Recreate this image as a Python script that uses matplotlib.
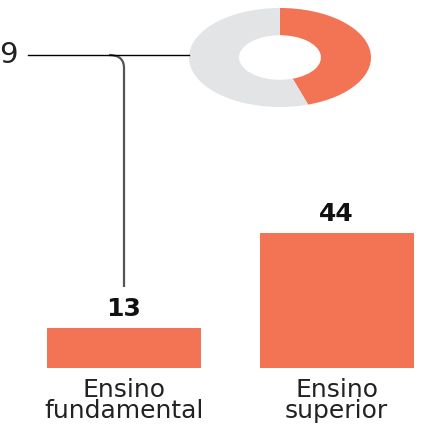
import matplotlib.pyplot as plt
from matplotlib.path import Path
from matplotlib.patches import PathPatch

# dados
categorias = ["Ensino\nfundamental", "Ensino\nsuperior"]
valores = [13, 44]
donut_valores = [45, 55]
donut_rotulo = "9"

laranja = "#F37355"
cinza = "#E3E4E6"

W, H = 422, 425
fig = plt.figure(figsize=(W / 100, H / 100), dpi=100)

# barras
base_px = 368
ax = fig.add_axes([0, (H - base_px) / H, 1, base_px / H])
ax.patch.set_visible(False)
ax.bar(range(len(valores)), valores, width=0.725, color=laranja)
ax.set_xlim(-0.5835, 1.402)
ax.set_ylim(0, base_px / 3.07)
for s in ax.spines.values():
    s.set_visible(False)
ax.set_yticks([])
ax.set_xticks(range(len(categorias)))
ax.set_xticklabels(categorias, fontsize=18, color="#222222", linespacing=0.88)
ax.tick_params(axis="x", length=0, pad=7)
for i, v in enumerate(valores):
    ax.annotate(str(v), (i, v), xytext=(0, 5), textcoords="offset points",
                ha="center", va="bottom", fontsize=18, fontweight="bold",
                color="#111111")

# rosca (esticada na horizontal como no original)
ax2 = fig.add_axes([189 / W, 1 - 107 / H, 182 / W, 99 / H])
ax2.pie(donut_valores, colors=[laranja, cinza], startangle=90,
        counterclock=False, wedgeprops=dict(width=0.55))
ax2.set_aspect("auto")
ax2.set_xlim(-1, 1)
ax2.set_ylim(-1, 1)

# linhas de ligação, em pixels
ov = fig.add_axes([0, 0, 1, 1])
ov.patch.set_visible(False)
ov.set_xlim(0, W)
ov.set_ylim(H, 0)
ov.axis("off")
y_lin = 55
x_bar = ax.transData.transform((0, 0))[0]
ov.plot([28, 189], [y_lin, y_lin], color="black", lw=1)
verts = [(x_bar - 15, y_lin), (x_bar, y_lin), (x_bar, y_lin + 13), (x_bar, 287)]
codes = [Path.MOVETO, Path.CURVE3, Path.CURVE3, Path.LINETO]
ov.add_patch(PathPatch(Path(verts, codes), fill=False, color="#555555", lw=1.6))
ov.text(18, y_lin, donut_rotulo, ha="right", va="center", fontsize=21, color="#222222")

fig.savefig("out.png", dpi=100)
